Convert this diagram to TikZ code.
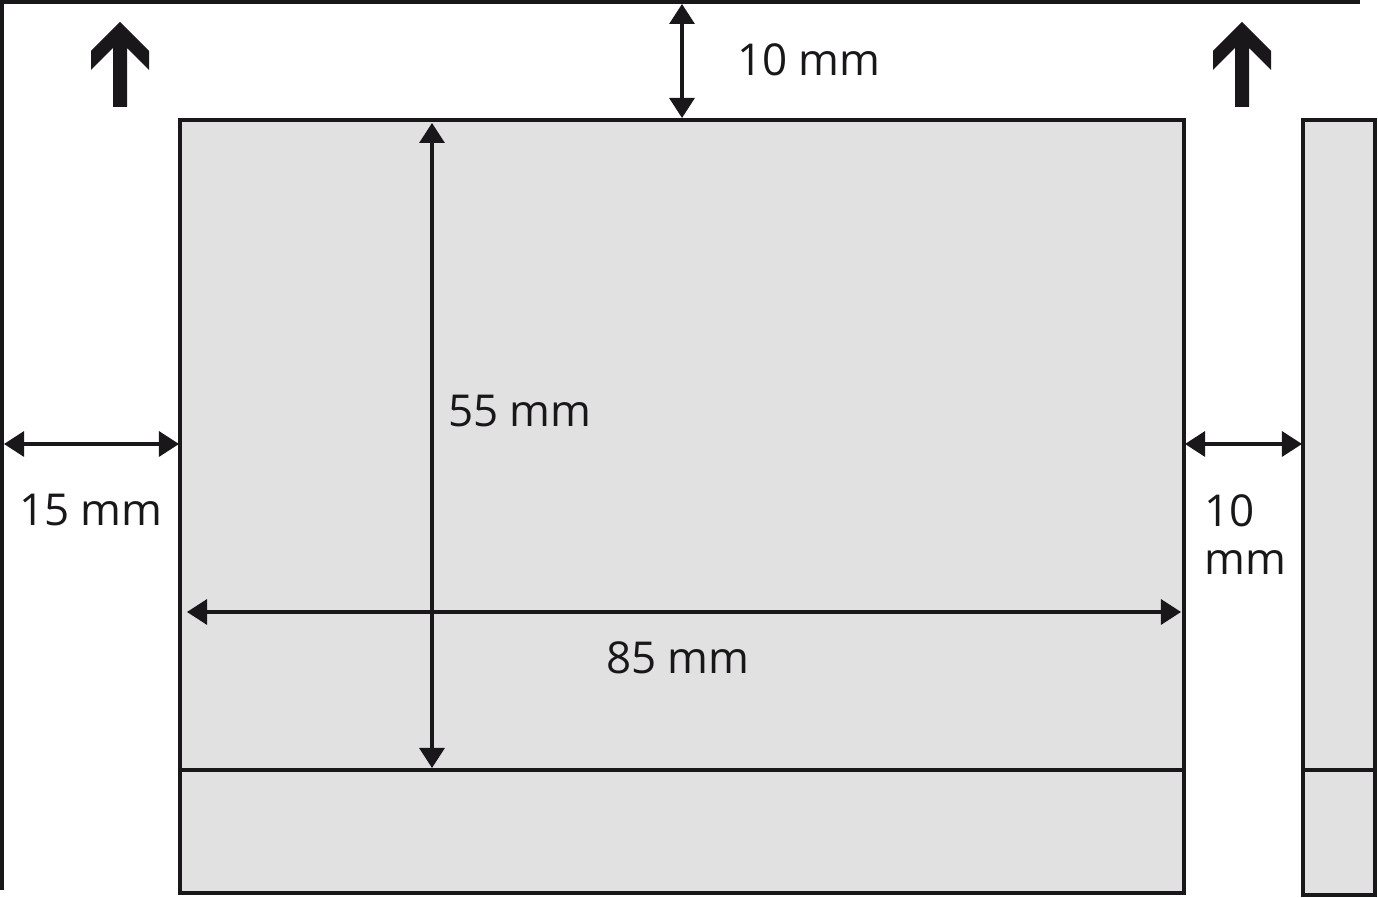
\documentclass[tikz,border=0pt]{standalone}
\usepackage{fontspec}
\setmainfont{Open Sans}
\usetikzlibrary{arrows.meta}
\definecolor{cardgray}{RGB}{225,225,225}
\definecolor{inkblack}{RGB}{26,23,27}
\tikzset{
  edge/.style={draw=inkblack,line width=1.15pt},
  dimline/.style={draw=inkblack,line width=0.9pt,
    {Triangle[length=0.2cm,width=0.25cm]}-{Triangle[length=0.2cm,width=0.25cm]}},
  dimlabel/.style={text=inkblack,font=\fontsize{12.5}{13.7}\selectfont,inner sep=0pt},
  feed/.pic={\fill[inkblack] (-7,85) -- (-7,26) -- (-29,48) -- (-29,29) -- (0,0)
    -- (29,29) -- (29,48) -- (7,26) -- (7,85) -- cycle;}
}

\begin{document}
\begin{tikzpicture}[x=0.01cm,y=-0.01cm]
  \useasboundingbox (0,0) rectangle (1378,898);
  % sheet edge
  \draw[edge] (2,890) -- (2,2) coordinate (sheetcorner) -- (1360,2);
  % card and side view
  \fill[cardgray] (180,120) rectangle (1184,893);
  \draw[edge] (180,120) coordinate (cardNW) rectangle (1184,893) coordinate (cardSE);
  \draw[edge] (180,770) -- (1184,770);
  \fill[cardgray] (1303,120) rectangle (1375,895);
  \draw[edge] (1303,120) coordinate (sideNW) rectangle (1375,895);
  \draw[edge] (1303,770) -- (1375,770);
  % feed direction
  \pic at (120,22) {feed};
  \pic at (1242,22) {feed};
  % dimension points
  \coordinate (topA) at (682,4);
  \coordinate (topB) at (682,118);
  \coordinate (hA) at (432,123);
  \coordinate (hB) at (432,768);
  \coordinate (wA) at (187,612);
  \coordinate (wB) at (1181,612);
  \coordinate (lA) at (4,444);
  \coordinate (lB) at (179,444);
  \coordinate (rA) at (1185,444);
  \coordinate (rB) at (1302,444);
  \draw[dimline] (topA) -- (topB);
  \draw[dimline] (hA) -- (hB);
  \draw[dimline] (wA) -- (wB);
  \draw[dimline] (lA) -- (lB);
  \draw[dimline] (rA) -- (rB);
  % labels
  \node[dimlabel] (topmm) at (809,60) {10 mm};
  \node[dimlabel] (heightmm) at (520,411) {55 mm};
  \node[dimlabel] (widthmm) at (678,658) {85 mm};
  \node[dimlabel] (leftmm) at (91,510) {15 mm};
  \node[dimlabel,align=left,anchor=north west] (gapmm) at (1204,494) {10\\mm};
\end{tikzpicture}
\end{document}
